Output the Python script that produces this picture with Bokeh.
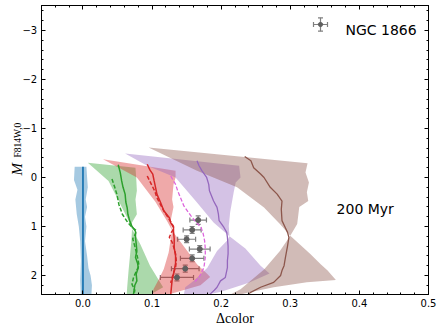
import numpy as np
from bokeh.plotting import figure
from bokeh.layouts import row
from bokeh.core.properties import value
from bokeh.models import (Range1d, FixedTicker, CustomJSTickFormatter, LinearAxis, Label,
                          Whisker, TeeHead, ColumnDataSource, PolyAnnotation)
from bokeh.embed import file_html
from bokeh.resources import INLINE

# ---------------- data ----------------
x_ticks = [0.0, 0.1, 0.2, 0.3, 0.4, 0.5]
y_ticks = [-3, -2, -1, 0, 1, 2]
y_tick_labels = ["\u22123", "\u22122", "\u22121", "0", "1", "2"]

c_blue, c_green, c_red, c_purple, c_brown = "#1f77b4", "#2ca02c", "#d62728", "#9467bd", "#8c564b"
c_magenta = "#dd66dd"

# shaded envelopes (polygon boundaries: Δcolor, magnitude)
blue_fill_x = [0.005, 0.006, 0.007, 0.004, 0.006, 0.003, 0.005, 0.003, 0.006, 0.008, 0.011, 0.013, 0.012,
               -0.003, -0.004, -0.003, -0.004, -0.006, -0.009, -0.011, -0.008, -0.013, -0.012]
blue_fill_mag = [-0.22, 0.0, 0.2, 0.45, 0.6, 0.8, 1.0, 1.3, 1.6, 1.85, 2.0, 2.2, 2.45,
                 2.45, 2.1, 1.7, 1.3, 1.0, 0.75, 0.45, 0.25, 0.05, -0.22]

green_fill_x = [0.007, 0.076, 0.077, 0.078, 0.076, 0.078, 0.071, 0.071, 0.083, 0.097, 0.110, 0.116, 0.09,
                0.063, 0.064, 0.066, 0.068, 0.070, 0.071, 0.064, 0.037]
green_fill_mag = [-0.30, -0.20, 0.0, 0.27, 0.45, 0.75, 0.92, 1.05, 1.36, 1.8, 2.1, 2.24, 2.45,
                  2.45, 2.24, 1.9, 1.6, 1.3, 1.05, 0.82, 0.07]

red_fill_x = [0.029, 0.134, 0.134, 0.131, 0.129, 0.131, 0.127, 0.129, 0.135, 0.151, 0.165, 0.180, 0.184,
              0.17, 0.13, 0.10, 0.102, 0.110, 0.117, 0.124, 0.127, 0.129, 0.122, 0.105, 0.078, 0.052]
red_fill_mag = [-0.37, -0.14, 0.0, 0.15, 0.45, 0.6, 0.88, 1.08, 1.2, 1.5, 1.77, 1.97, 2.03,
                2.2, 2.36, 2.45, 2.28, 2.07, 1.87, 1.53, 1.25, 1.08, 0.9, 0.5, 0.0, -0.2]

purple_fill_x = [0.061, 0.226, 0.228, 0.221, 0.218, 0.213, 0.211, 0.212, 0.235, 0.257, 0.270,
                 0.24, 0.20, 0.16, 0.145, 0.148, 0.16, 0.18, 0.194, 0.209, 0.212, 0.189, 0.165, 0.134, 0.093]
purple_fill_mag = [-0.49, -0.24, 0.0, 0.1, 0.31, 0.71, 0.99, 1.2, 1.45, 1.8, 1.96,
                   2.15, 2.33, 2.45, 2.45, 2.24, 2.11, 1.84, 1.5, 1.28, 1.2, 0.92, 0.51, 0.0, -0.24]

brown_fill_x = [0.095, 0.325, 0.322, 0.327, 0.324, 0.326, 0.313, 0.310, 0.300, 0.329, 0.344, 0.354, 0.366,
                0.324, 0.276, 0.238, 0.21, 0.205, 0.228, 0.262, 0.285, 0.300, 0.285, 0.262, 0.223, 0.165]
brown_fill_mag = [-0.61, -0.29, -0.1, 0.1, 0.3, 0.48, 0.6, 0.95, 1.19, 1.56, 1.77, 1.9, 2.09,
                  2.14, 2.24, 2.35, 2.45, 2.45, 2.28, 1.88, 1.5, 1.19, 0.95, 0.61, 0.2, -0.14]

# model sequences (lines)
blue_line_x = [0.0, 0.0]
blue_line_mag = [-0.22, 2.45]

green_solid_x = [0.051, 0.054, 0.056, 0.058, 0.061, 0.062, 0.064, 0.065, 0.068, 0.071, 0.076, 0.076, 0.077,
                 0.078, 0.076, 0.079, 0.080, 0.077, 0.078, 0.075, 0.074, 0.073]
green_solid_mag = [-0.26, -0.1, 0.07, 0.2, 0.34, 0.5, 0.62, 0.75, 0.9, 1.0, 1.1, 1.22, 1.35,
                   1.5, 1.63, 1.75, 1.84, 1.97, 2.11, 2.2, 2.3, 2.39]
green_dash_x = [0.042, 0.046, 0.049, 0.052, 0.057, 0.064, 0.070, 0.077, 0.076, 0.072, 0.075, 0.078, 0.080,
                0.081, 0.076, 0.073, 0.071, 0.075, 0.074]
green_dash_mag = [0.03, 0.2, 0.34, 0.55, 0.75, 0.9, 1.0, 1.08, 1.15, 1.25, 1.4, 1.57, 1.7,
                  1.8, 1.95, 2.05, 2.18, 2.3, 2.39]

red_solid_x = [0.093, 0.097, 0.101, 0.103, 0.105, 0.107, 0.112, 0.117, 0.125, 0.127, 0.131, 0.131, 0.132,
               0.132, 0.134, 0.134, 0.131, 0.129, 0.128, 0.127]
red_solid_mag = [-0.27, -0.15, -0.07, 0.07, 0.2, 0.34, 0.5, 0.68, 0.82, 0.92, 1.02, 1.1, 1.25,
                 1.43, 1.6, 1.75, 1.97, 2.1, 2.24, 2.39]
red_dash_x = [0.093, 0.099, 0.104, 0.107, 0.112, 0.117, 0.126, 0.131, 0.131, 0.128, 0.125, 0.129, 0.132,
              0.134, 0.135, 0.134, 0.131, 0.129, 0.127]
red_dash_mag = [-0.03, 0.14, 0.28, 0.41, 0.55, 0.68, 0.88, 1.0, 1.05, 1.12, 1.22, 1.32, 1.45,
                1.56, 1.7, 1.84, 1.95, 2.04, 2.15]

purple_solid_x = [0.165, 0.168, 0.172, 0.179, 0.182, 0.183, 0.189, 0.194, 0.196, 0.197, 0.204, 0.208, 0.209,
                  0.210, 0.210, 0.209, 0.209, 0.207, 0.206, 0.199, 0.194, 0.190, 0.184]
purple_solid_mag = [-0.34, -0.24, -0.14, 0.0, 0.14, 0.27, 0.48, 0.61, 0.75, 0.88, 1.02, 1.12, 1.22,
                    1.4, 1.56, 1.7, 1.84, 1.97, 2.04, 2.11, 2.24, 2.3, 2.38]

brown_solid_x = [0.234, 0.243, 0.247, 0.257, 0.262, 0.271, 0.281, 0.288, 0.287, 0.288, 0.292, 0.296, 0.298,
                 0.296, 0.293, 0.291, 0.288, 0.286, 0.276, 0.257, 0.242, 0.238]
brown_solid_mag = [-0.43, -0.34, -0.2, -0.07, 0.0, 0.2, 0.34, 0.48, 0.65, 0.88, 1.0, 1.12, 1.22,
                   1.4, 1.63, 1.8, 1.9, 2.0, 2.14, 2.24, 2.35, 2.40]

magenta_dash_x = [0.127, 0.134, 0.137, 0.141, 0.146, 0.156, 0.163, 0.171, 0.174, 0.176, 0.177, 0.177,
                  0.175, 0.171, 0.168, 0.161]
magenta_dash_mag = [-0.03, 0.14, 0.27, 0.41, 0.58, 0.78, 0.9, 1.02, 1.15, 1.29, 1.45, 1.63,
                    1.84, 1.95, 2.04, 2.14]

# NGC 1866 observations
ngc_color = [0.1667, 0.158, 0.150, 0.169, 0.158, 0.148, 0.136]
ngc_mag = [0.87, 1.07, 1.26, 1.46, 1.65, 1.86, 2.04]
ngc_color_err = [0.012, 0.013, 0.013, 0.015, 0.017, 0.020, 0.024]
ngc_mag_err = [0.085, 0.07, 0.07, 0.07, 0.07, 0.07, 0.07]

legend_label = "NGC 1866"
age_label = "200 Myr"
x_label = "\u0394color"
y_label_main, y_label_sub = "M", "F814W,0"

# ---------------- layout sizes ----------------
H = 331
LEFT_W = 39          # panel holding the y tick labels and the y-axis title
MAIN_W = 443 - LEFT_W
TOP, BOTTOM = 5, 37  # frame borders (px)
yrange = Range1d(2.388, -3.51)
PX_PER_MAG = (H - TOP - BOTTOM) / (yrange.start - yrange.end)


def px_to_mag(py):
    """vertical screen position (px from top) -> magnitude on the shared y range"""
    return yrange.end + (py - TOP) / PX_PER_MAG


# ---------------- main figure ----------------
p = figure(width=MAIN_W, height=H, output_backend="svg", toolbar_location=None,
           x_range=Range1d(-0.06, 0.5), y_range=yrange,
           min_border_left=2, min_border_right=15, min_border_top=TOP, min_border_bottom=BOTTOM,
           x_axis_type=None, y_axis_type=None)
p.grid.visible = False
p.outline_line_color = "black"
p.outline_line_width = 1

x_minor = [round(v, 3) for v in np.arange(-0.06, 0.5001, 0.02)]
y_minor = [round(v, 3) for v in np.arange(-3.4, 2.4001, 0.2)]
xticker = FixedTicker(ticks=x_ticks, minor_ticks=x_minor)
yticker = FixedTicker(ticks=y_ticks, minor_ticks=y_minor)

xfmt = CustomJSTickFormatter(code="return tick.toFixed(1);")
blank = CustomJSTickFormatter(code="return '';")


def style_axis(ax, labels=True):
    ax.major_tick_in = 4
    ax.major_tick_out = 0
    ax.minor_tick_in = 2
    ax.minor_tick_out = 0
    ax.axis_line_color = "black"
    ax.major_tick_line_color = "black"
    ax.minor_tick_line_color = "black"
    ax.major_label_text_font = "DejaVu Sans"
    ax.major_label_text_color = "black"
    if labels:
        ax.major_label_text_font_size = "10px"
        ax.major_label_standoff = 4
    else:
        ax.major_label_text_font_size = "1px"
        ax.major_label_standoff = 0


xb = LinearAxis(ticker=xticker, formatter=xfmt, axis_label=x_label)
style_axis(xb)
xb.axis_label_text_font = "Liberation Serif"
xb.axis_label_text_font_size = "14px"
xb.axis_label_text_font_style = "normal"
xb.axis_label_text_color = "black"
xb.axis_label_standoff = 1
p.add_layout(xb, "below")
xt = LinearAxis(ticker=xticker, formatter=blank)
style_axis(xt, labels=False)
p.add_layout(xt, "above")
yl = LinearAxis(ticker=yticker, formatter=blank)
style_axis(yl, labels=False)
p.add_layout(yl, "left")
yr = LinearAxis(ticker=yticker, formatter=blank)
style_axis(yr, labels=False)
p.add_layout(yr, "right")

# shaded envelopes
for fx, fm, col in [(blue_fill_x, blue_fill_mag, c_blue), (green_fill_x, green_fill_mag, c_green),
                    (red_fill_x, red_fill_mag, c_red), (purple_fill_x, purple_fill_mag, c_purple),
                    (brown_fill_x, brown_fill_mag, c_brown)]:
    p.patch(fx, fm, fill_color=col, fill_alpha=0.4, line_color=None)

# model lines
p.line(blue_line_x, blue_line_mag, line_color=c_blue, line_width=1.8)
p.line(green_solid_x, green_solid_mag, line_color=c_green, line_width=1.5)
p.line(green_dash_x, green_dash_mag, line_color=c_green, line_width=1.5, line_dash="4 2")
p.line(red_solid_x, red_solid_mag, line_color=c_red, line_width=1.5)
p.line(red_dash_x, red_dash_mag, line_color=c_red, line_width=1.5, line_dash="4 2")
p.line(magenta_dash_x, magenta_dash_mag, line_color=c_magenta, line_width=1.3, line_dash="4 2")
p.line(purple_solid_x, purple_solid_mag, line_color=c_purple, line_width=1.3)
p.line(brown_solid_x, brown_solid_mag, line_color=c_brown, line_width=1.3)

# observations with error bars
cx = np.array(ngc_color)
cm = np.array(ngc_mag)
src = ColumnDataSource(dict(x=cx, y=cm,
                            xl=cx - np.array(ngc_color_err), xu=cx + np.array(ngc_color_err),
                            yl=cm - np.array(ngc_mag_err), yu=cm + np.array(ngc_mag_err)))
err_col = "#7f7f7f"


def tee():
    return TeeHead(size=5, line_color=err_col, line_width=1.2)


p.add_layout(Whisker(source=src, base="y", lower="xl", upper="xu", dimension="width",
                     line_color=err_col, line_width=1.2, lower_head=tee(), upper_head=tee()))
p.add_layout(Whisker(source=src, base="x", lower="yl", upper="yu", dimension="height",
                     line_color=err_col, line_width=1.2, lower_head=tee(), upper_head=tee()))
p.scatter("x", "y", source=src, size=5, fill_color="#5f5f5f", line_color="#5f5f5f")

# legend (screen units, relative to the frame)
lg_x, lg_y = 279, 270
lsrc = ColumnDataSource(dict(bx=[lg_y], lx=[lg_x - 7], ux=[lg_x + 7], by=[lg_x], ly=[lg_y - 6.7], uy=[lg_y + 6.7]))
p.add_layout(Whisker(source=lsrc, base="bx", lower="lx", upper="ux", dimension="width",
                     base_units="screen", lower_units="screen", upper_units="screen",
                     line_color=err_col, line_width=1.2, lower_head=tee(), upper_head=tee()))
p.add_layout(Whisker(source=lsrc, base="by", lower="ly", upper="uy", dimension="height",
                     base_units="screen", lower_units="screen", upper_units="screen",
                     line_color=err_col, line_width=1.2, lower_head=tee(), upper_head=tee()))
ang = np.linspace(0, 2 * np.pi, 13)[:-1]
p.add_layout(PolyAnnotation(xs=list(lg_x + 2.5 * np.cos(ang)), ys=list(lg_y + 2.5 * np.sin(ang)),
                            xs_units="screen", ys_units="screen",
                            fill_color="#5f5f5f", fill_alpha=1, line_color=None))
p.add_layout(Label(x=304, y=264.7, x_units="screen", y_units="screen", text=legend_label,
                   text_font="DejaVu Sans", text_font_size="14px", text_color="black",
                   text_baseline="alphabetic", text_align="left"))

# age annotation
p.add_layout(Label(x=0.367, y=0.645, text=age_label, text_font="DejaVu Sans", text_font_size="14px",
                   text_color="black", text_baseline="alphabetic", text_align="left"))

# ---------------- left panel: y tick labels + y-axis title ----------------
q = figure(width=LEFT_W, height=H, output_backend="svg", toolbar_location=None,
           x_range=Range1d(0, LEFT_W), y_range=yrange,
           min_border_left=0, min_border_right=0, min_border_top=TOP, min_border_bottom=BOTTOM,
           x_axis_type=None, y_axis_type=None)
q.grid.visible = False
q.outline_line_color = None
q.text(x=[LEFT_W - 2.3] * len(y_ticks), y=y_ticks, text=y_tick_labels,
       text_font=value("DejaVu Sans"), text_font_size="10px", text_color="black",
       text_align="right", text_baseline="middle")
q.text(x=[16.5], y=[px_to_mag(175)], text=[y_label_main], angle=np.pi / 2,
       text_font=value("Liberation Serif"), text_font_style="italic", text_font_size="15px",
       text_color="black", text_align="left", text_baseline="alphabetic")
q.text(x=[17.5], y=[px_to_mag(157)], text=[y_label_sub], angle=np.pi / 2,
       text_font=value("Liberation Serif"), text_font_size="9.5px",
       text_color="black", text_align="left", text_baseline="alphabetic")

layout = row(q, p, spacing=0)
open("out.html", "w").write(file_html(layout, INLINE))
